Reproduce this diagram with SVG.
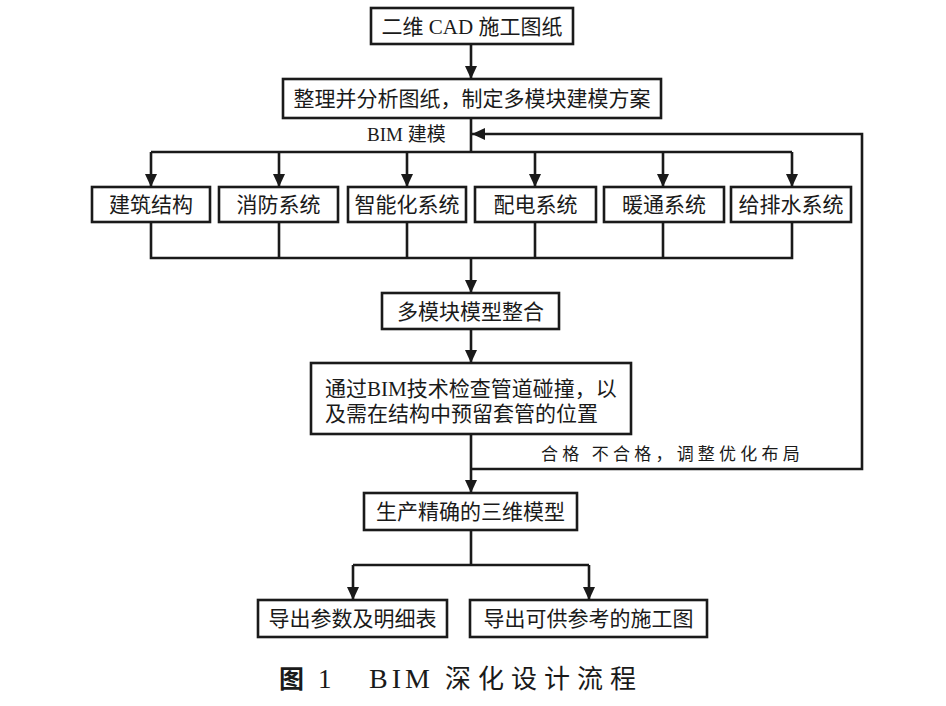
<svg xmlns="http://www.w3.org/2000/svg" width="946" height="706" viewBox="0 0 946 706">
<defs>
<marker id="ah" markerUnits="userSpaceOnUse" markerWidth="14" markerHeight="14" viewBox="0 0 14 14" refX="13" refY="7" orient="auto">
<path d="M0,1 L13,7 L0,13 Z" fill="#1a1a1a"/>
</marker>
<style>
.box{fill:#fff;stroke:#1a1a1a;stroke-width:2.6}
.ln{fill:none;stroke:#1a1a1a;stroke-width:2.6}
.t{font-family:"Liberation Serif","Noto Sans CJK SC",serif;font-size:21px;fill:#1a1a1a}
.c{text-anchor:middle}
.s{font-family:"Liberation Serif","Noto Sans CJK SC",serif;font-size:17px;fill:#1a1a1a}
</style>
</defs>
<rect width="946" height="706" fill="#fff"/>
<g id="connectors">
<line class="ln" x1="471" y1="44" x2="471" y2="79" marker-end="url(#ah)"/>
<polyline class="ln" points="471,118 471,152"/>
<polyline class="ln" points="151,152 792,152"/>
<line class="ln" x1="151" y1="152" x2="151" y2="187" marker-end="url(#ah)"/>
<line class="ln" x1="279" y1="152" x2="279" y2="187" marker-end="url(#ah)"/>
<line class="ln" x1="407" y1="152" x2="407" y2="187" marker-end="url(#ah)"/>
<line class="ln" x1="535" y1="152" x2="535" y2="187" marker-end="url(#ah)"/>
<line class="ln" x1="663" y1="152" x2="663" y2="187" marker-end="url(#ah)"/>
<line class="ln" x1="792" y1="152" x2="792" y2="187" marker-end="url(#ah)"/>
<polyline class="ln" points="151,222 151,258 792,258 792,222"/>
<line class="ln" x1="279" y1="222" x2="279" y2="258"/>
<line class="ln" x1="407" y1="222" x2="407" y2="258"/>
<line class="ln" x1="535" y1="222" x2="535" y2="258"/>
<line class="ln" x1="663" y1="222" x2="663" y2="258"/>
<line class="ln" x1="471" y1="258" x2="471" y2="293" marker-end="url(#ah)"/>
<line class="ln" x1="471" y1="329" x2="471" y2="363" marker-end="url(#ah)"/>
<line class="ln" x1="471" y1="434" x2="471" y2="493" marker-end="url(#ah)"/>
<polyline class="ln" points="471,469 862,469 862,134 472,134" marker-end="url(#ah)"/>
<polyline class="ln" points="471,530 471,565"/>
<polyline class="ln" points="353,565 589,565"/>
<line class="ln" x1="353" y1="565" x2="353" y2="600" marker-end="url(#ah)"/>
<line class="ln" x1="589" y1="565" x2="589" y2="600" marker-end="url(#ah)"/>
<text class="t" x="367" y="141" style="font-size:19px">BIM 建模</text>
<text class="s" x="541" y="460" style="letter-spacing:4.2px">合格 不合格，调整优化布局</text>
</g>
<g id="n1"><rect class="box" x="371" y="8" width="202" height="36"/><text class="t c" x="472" y="34">二维 CAD 施工图纸</text></g>
<g id="n2"><rect class="box" x="283" y="79" width="378" height="39"/><text class="t c" x="472" y="106">整理并分析图纸，制定多模块建模方案</text></g>
<g id="n3"><rect class="box" x="92" y="187" width="118" height="35"/><text class="t c" x="151" y="212">建筑结构</text></g>
<g id="n4"><rect class="box" x="219" y="187" width="119" height="35"/><text class="t c" x="278.5" y="212">消防系统</text></g>
<g id="n5"><rect class="box" x="348" y="187" width="118" height="35"/><text class="t c" x="407" y="212">智能化系统</text></g>
<g id="n6"><rect class="box" x="475" y="187" width="121" height="35"/><text class="t c" x="535.5" y="212">配电系统</text></g>
<g id="n7"><rect class="box" x="604" y="187" width="120" height="35"/><text class="t c" x="664" y="212">暖通系统</text></g>
<g id="n8"><rect class="box" x="731" y="187" width="120" height="35"/><text class="t c" x="791" y="212">给排水系统</text></g>
<g id="n9"><rect class="box" x="382" y="293" width="177" height="36"/><text class="t c" x="470.5" y="319">多模块模型整合</text></g>
<g id="n10"><rect class="box" x="311" y="363" width="320" height="71"/><text class="t" x="325" y="396">通过BIM技术检查管道碰撞，以</text><text class="t" x="325" y="421">及需在结构中预留套管的位置</text></g>
<g id="n11"><rect class="box" x="364" y="493" width="213" height="37"/><text class="t c" x="470.5" y="519">生产精确的三维模型</text></g>
<g id="n12"><rect class="box" x="258" y="600" width="189" height="37"/><text class="t c" x="352.5" y="626">导出参数及明细表</text></g>
<g id="n13"><rect class="box" x="470" y="600" width="237" height="37"/><text class="t c" x="588.5" y="626">导出可供参考的施工图</text></g>
<g id="caption">
<text x="279" y="688" style="font-family:'Noto Sans CJK SC',sans-serif;font-size:25px;font-weight:bold;fill:#1a1a1a">图</text>
<text x="318" y="688" style="font-family:'Liberation Serif',serif;font-size:27px;fill:#1a1a1a">1</text>
<text x="369" y="688" style="font-family:'Liberation Serif',serif;font-size:28px;letter-spacing:4px;fill:#1a1a1a">BIM</text>
<text x="445" y="688" style="font-family:'Liberation Serif','Noto Sans CJK SC',serif;font-size:26px;letter-spacing:7px;fill:#1a1a1a">深化设计流程</text>
</g>
</svg>
